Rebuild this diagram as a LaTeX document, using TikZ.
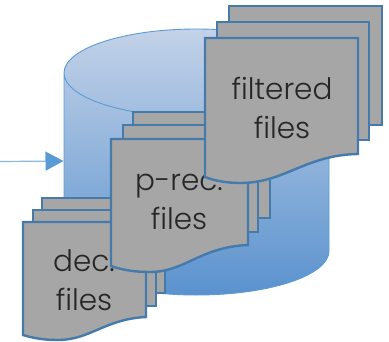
\documentclass[tikz,border=0pt]{standalone}
\usepackage{fontspec}
\setmainfont{Poppins}[UprightFont=* Light]
\definecolor{sheetfill}{HTML}{A6A6A6}
\definecolor{sheetline}{HTML}{457AAA}
\definecolor{cylline}{HTML}{5B9BD5}
\definecolor{cyltop}{HTML}{C3D2E8}
\definecolor{cylmid}{HTML}{84ABD8}
\definecolor{cylbot}{HTML}{5A92CE}
\definecolor{inkc}{HTML}{262626}
\usetikzlibrary{arrows.meta}
\tikzset{
  sheet/.style={draw=sheetline,fill=sheetfill,line width=2.4pt,line join=miter},
  doclabel/.style={text=inkc,align=center,font=\fontsize{29.5}{38.5}\selectfont,inner sep=0pt},
  feed/.style={draw=cylline!70,line width=1.2pt,-{Triangle[length=18pt,width=19pt,fill=cylline,color=cylline]}},
  cylface/.style={top color=cyltop,middle color=cylmid,bottom color=cylbot,draw=none},
  cylrim/.style={draw=cylline,line width=0.9pt}
}
\begin{document}
\begin{tikzpicture}[x=1pt,y=-1pt]
\useasboundingbox (0,0) rectangle (389,341);
% cylinder
\path[cylface] (64,73) -- (64,251) arc[x radius=132.5,y radius=44,start angle=180,end angle=0] -- (329,73)
  arc[x radius=132.5,y radius=44,start angle=0,end angle=-180] -- cycle;
\draw[cylrim] (64,251) -- (64,73) arc[x radius=132.5,y radius=44,start angle=180,end angle=-180];
\draw[cylrim] (329,73) -- (329,251) arc[x radius=132.5,y radius=44,start angle=0,end angle=180];
\coordinate (cylinlet) at (63.5,161);
\coordinate (feedstart) at (0,161.5);
\draw[feed] (feedstart) -- (cylinlet);
% dec. files
\draw[sheet] (42,198) rectangle (165,293);
\draw[sheet] (33,210) rectangle (156,306);
\draw[sheet] (23,222) -- (146,222) -- (146,317) .. controls (105,319) and (90,340) .. (58,340) .. controls (43,340) and (33,338) .. (23,335) -- cycle;
\node[doclabel] (dec) at (84,280) {dec.\\files};
% p-rec. files
\draw[sheet] (133,112) rectangle (270,218);
\draw[sheet] (123,125) rectangle (258,232);
\draw[sheet] (111,139) -- (248,139) -- (248,245) .. controls (200,247) and (185,272) .. (150,272) .. controls (135,272) and (122,270) .. (111,266) -- cycle;
\node[doclabel] (prec) at (179,202) {p-rec.\\files};
% filtered files
\draw[sheet] (229,6) rectangle (382,125);
\draw[sheet] (217,22) rectangle (369,140);
\draw[sheet] (205,38) -- (358,38) -- (358,154) .. controls (305,155) and (285,183) .. (240,183) .. controls (228,183) and (215,181) .. (205,177) -- cycle;
\node[doclabel] (filtered) at (282,108) {filtered\\files};
\end{tikzpicture}
\end{document}
